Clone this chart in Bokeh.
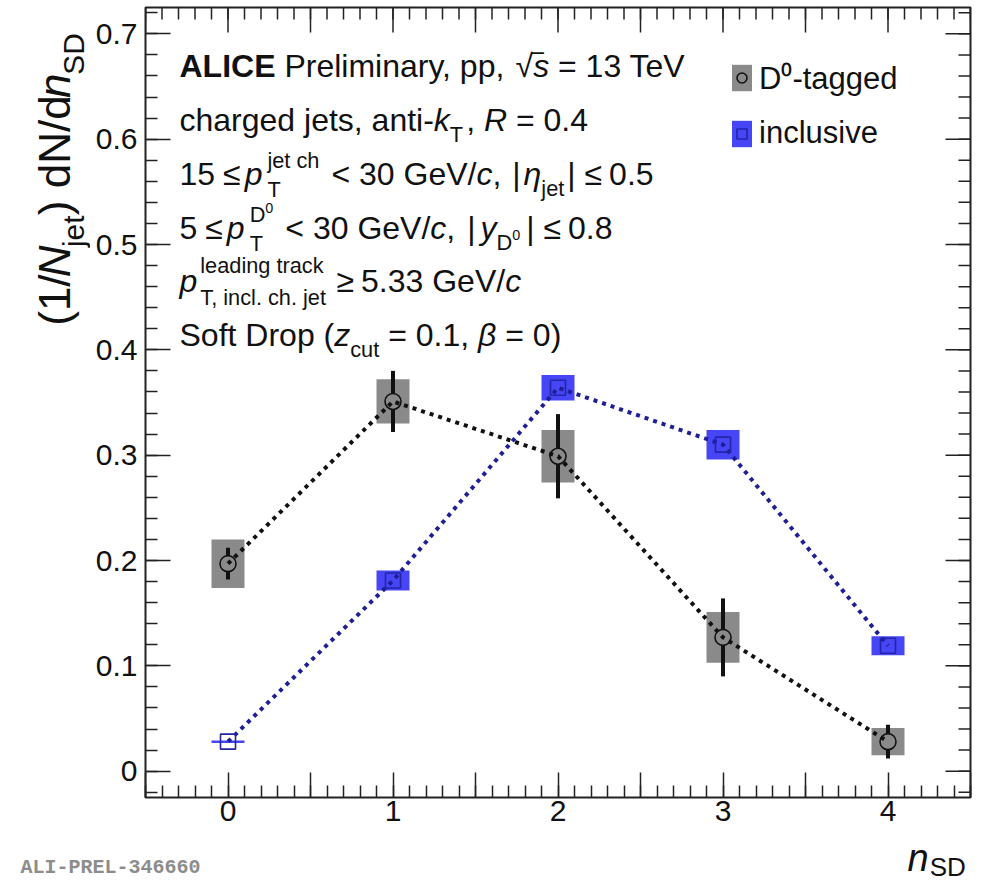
import numpy as np
from bokeh.plotting import figure
from bokeh.layouts import column, row
from bokeh.models import (ColumnDataSource, Label, FixedTicker, Range1d,
                          Legend, LegendItem)
from bokeh.embed import file_html
from bokeh.resources import INLINE

# ---------------- data ----------------
n_sd = [0, 1, 2, 3, 4]
d0_val = [0.197, 0.351, 0.299, 0.127, 0.028]
d0_stat = [0.015, 0.029, 0.040, 0.037, 0.016]
d0_syst = [0.023, 0.021, 0.025, 0.024, 0.013]
incl_val = [0.028, 0.181, 0.364, 0.310, 0.119]
incl_syst = [0.0012, 0.0095, 0.012, 0.014, 0.009]

x_ticks = [-0.5, 0, 0.5, 1, 1.5, 2, 2.5, 3, 3.5, 4, 4.5]
x_tick_labels = ["", "0", "", "1", "", "2", "", "3", "", "4", ""]
y_ticks = [0.0, 0.1, 0.2, 0.3, 0.4, 0.5, 0.6, 0.7]
y_tick_labels = ["0", "0.1", "0.2", "0.3", "0.4", "0.5", "0.6", "0.7"]

# ---------------- geometry (page pixels) ----------------
FONT = "Liberation Sans"
TOT_W, TOT_H = 992, 882
LEFT_W = 90          # strip holding the y title
ROW_H = 834          # height of the main row
FL, FR, FT, FB = 145, 970, 7, 797      # frame edges
X0, X1 = -0.5, 4.5
Y0, Y1 = -0.025, 0.725
BASE_FIX = 0.39      # Bokeh places an 'alphabetic' label this many em low

p = figure(width=TOT_W - LEFT_W, height=ROW_H, x_range=(X0, X1), y_range=(Y0, Y1),
           output_backend="svg", toolbar_location=None,
           min_border_left=FL - LEFT_W, min_border_right=TOT_W - FR,
           min_border_top=FT, min_border_bottom=ROW_H - FB)
p.xgrid.visible = False
p.ygrid.visible = False
p.outline_line_color = "#222222"
p.outline_line_width = 2

def X(px):
    return X0 + (px - FL) / (FR - FL) * (X1 - X0)

def Y(py):
    return Y0 + (FB - py) / (FB - FT) * (Y1 - Y0)

PX_PER_X = (FR - FL) / (X1 - X0)
PX_PER_Y = (FB - FT) / (Y1 - Y0)

# ---------------- axes ----------------
x_minor = [round(v, 2) for v in np.arange(-0.5, 4.5001, 0.1)]
y_minor = [round(v, 3) for v in np.arange(-0.02, 0.7201, 0.02)]
MAJ, MIN = 25, 12
TICK_C = "#222222"

def style_axis(ax):
    ax.axis_line_color = None
    ax.major_tick_line_color = TICK_C
    ax.minor_tick_line_color = TICK_C
    ax.major_tick_line_width = 1.5
    ax.minor_tick_line_width = 1.5
    ax.major_tick_in = MAJ
    ax.major_tick_out = 0
    ax.minor_tick_in = MIN
    ax.minor_tick_out = 0
    ax.major_label_text_font = FONT
    ax.major_label_text_font_size = "30px"
    ax.major_label_text_color = "#111111"

xa = p.xaxis[0]
xa.ticker = FixedTicker(ticks=x_ticks, minor_ticks=x_minor)
xa.major_label_overrides = {t: l for t, l in zip(x_ticks, x_tick_labels)}
style_axis(xa)
xa.major_label_standoff = 3

ya = p.yaxis[0]
ya.ticker = FixedTicker(ticks=y_ticks, minor_ticks=y_minor)
ya.major_label_overrides = {t: l for t, l in zip(y_ticks, y_tick_labels)}
style_axis(ya)
ya.major_label_standoff = 8

# mirrored ticks on the top and right edges of the frame
xt_maj = np.array(x_ticks, float); xt_min = np.array(x_minor, float)
yt_maj = np.array(y_ticks, float); yt_min = np.array(y_minor, float)
for xs, ln in ((xt_maj, MAJ), (xt_min, MIN)):
    p.segment(x0=xs, y0=np.full(len(xs), Y1), x1=xs,
              y1=np.full(len(xs), Y1 - ln / PX_PER_Y),
              line_color=TICK_C, line_width=1.5)
for ys, ln in ((yt_maj, MAJ), (yt_min, MIN)):
    p.segment(x0=np.full(len(ys), X1), y0=ys, x1=np.full(len(ys), X1 - ln / PX_PER_X),
              y1=ys, line_color=TICK_C, line_width=1.5)

# ---------------- data glyphs ----------------
BX = 0.1
GAP = 8.0 / PX_PER_Y
x = np.array(n_sd, dtype=float)
d0v = np.array(d0_val); d0s = np.array(d0_stat); d0y = np.array(d0_syst)
inv = np.array(incl_val); iny = np.array(incl_syst)

src_d0 = ColumnDataSource(dict(x=x, y=d0v, l=x - BX, r=x + BX,
                               b=d0v - d0y, t=d0v + d0y,
                               up0=d0v + GAP, up1=d0v + d0s,
                               dn0=d0v - GAP, dn1=d0v - d0s))
src_in = ColumnDataSource(dict(x=x, y=inv, l=x - BX, r=x + BX,
                               b=inv - iny, t=inv + iny))

GRAY = "#8a8a8a"
BLUE = "#4646f6"
NAVY = "#2424a8"

r_box_d0 = p.quad(left="l", right="r", bottom="b", top="t", source=src_d0,
                  fill_color=GRAY, line_color=None)
r_box_in = p.quad(left="l", right="r", bottom="b", top="t", source=src_in,
                  fill_color=BLUE, line_color=None)
p.segment(x0="x", y0="up0", x1="x", y1="up1", source=src_d0,
          line_width=4, line_color="#111111")
p.segment(x0="x", y0="dn0", x1="x", y1="dn1", source=src_d0,
          line_width=4, line_color="#111111")
p.line("x", "y", source=src_d0, line_dash="4 5", line_width=4,
       line_color="#111111")
r_mk_d0 = p.scatter("x", "y", source=src_d0, marker="circle", size=16,
                    fill_color=None, line_color="#111111", line_width=1.6)
p.line("x", "y", source=src_in, line_dash="4 5", line_width=4,
       line_color="#1e1e96")
r_mk_in = p.scatter("x", "y", source=src_in, marker="square", size=15,
                    fill_color=None, line_color=NAVY, line_width=1.6)

# ---------------- legend ----------------
legend = Legend(items=[LegendItem(label="D\u2070-tagged", renderers=[r_box_d0, r_mk_d0]),
                       LegendItem(label="inclusive", renderers=[r_box_in, r_mk_in])],
                location=(729 - FL, FB - 151), orientation="vertical",
                glyph_width=25, glyph_height=33, label_standoff=5, spacing=17,
                padding=0, margin=0, border_line_color=None,
                background_fill_alpha=0, label_text_font=FONT,
                label_text_font_size="31px", label_text_color="#111111",
                label_text_baseline="middle", label_height=33)
p.add_layout(legend)

# ---------------- text helpers ----------------
W = {' ': 278, '(': 333, ')': 333, ',': 278, '-': 333, '.': 278, '/': 278,
     '=': 584, '<': 584, '>': 584, '\u2264': 549, '\u2265': 549, '|': 260,
     '\u221a': 549, 'A': 667, 'C': 722, 'D': 722, 'E': 667, 'G': 778,
     'I': 278, 'L': 556, 'N': 722, 'P': 667, 'R': 722, 'S': 667, 'T': 611,
     'V': 667, 'a': 556, 'c': 500, 'd': 556, 'e': 556, 'f': 278, 'g': 556,
     'h': 556, 'i': 222, 'j': 222, 'k': 500, 'l': 222, 'm': 833, 'n': 556,
     'o': 556, 'p': 556, 'r': 333, 's': 500, 't': 278, 'u': 556, 'v': 500,
     'y': 500, 'z': 500, '\u03b7': 556, '\u03b2': 575}
for d in "0123456789":
    W[d] = 556
WB = {'A': 722, 'L': 611, 'I': 278, 'C': 722, 'E': 667}

def tw(s, size, bold=False):
    tot = 0
    for ch in s:
        tot += WB[ch] if (bold and ch in WB) else W.get(ch, 556)
    return tot / 1000.0 * size

def label(fig, xd, yd, txt, size, style="normal", color="#111111", angle=0.0, font=FONT):
    fig.add_layout(Label(x=xd, y=yd, x_units="data", y_units="data",
                         text=txt, text_font=font, text_font_size=f"{size}px",
                         text_font_style=style, text_color=color,
                         text_baseline="alphabetic", text_align="left",
                         angle=angle))

class Row:
    """horizontal rich text inside the main frame; y is the true baseline (page px)"""
    def __init__(self, x, y, size):
        self.x, self.y, self.size = x, y, size

    def t(self, s, style="normal", scale=1.0, dy=0.0, adv=True, dx=0.0):
        sz = self.size * scale
        lead = len(s) - len(s.lstrip(" "))
        core = s.strip(" ")
        if core:
            px = self.x + dx + tw(" " * lead, sz)
            py = self.y - dy * self.size - BASE_FIX * sz
            label(p, X(px), Y(py), core, sz, style)
        w = tw(s, sz, bold=(style == "bold"))
        if adv:
            self.x += w
        return w

    def gap(self, px):
        self.x += px

    def sub(self, s, style="normal"):
        return self.t(s, style, 0.68, -0.32)

SZ = 32
TX = 179
SUPX = 5      # italic p: scripts start a little to the right

r = Row(TX, 78, SZ)
r.t("ALICE", "bold"); r.t(" Preliminary, pp, "); r.t("\u221a")
r.t("\u203e", adv=False, dx=-1); r.t("s", "italic"); r.t(" = 13 TeV")

r = Row(TX, 132, SZ)
r.t("charged jets, anti-"); r.t("k", "italic"); r.sub("T"); r.gap(3); r.t(", ")
r.t("R", "italic"); r.t(" = 0.4")

r = Row(TX, 186, SZ)
r.t("15"); r.gap(8); r.t("\u2264"); r.gap(4); r.t("p", "italic")
w1 = r.t("jet ch", scale=0.68, dy=0.55, adv=False, dx=SUPX)
w2 = r.t("T", scale=0.68, dy=-0.35, adv=False, dx=SUPX)
r.gap(SUPX + max(w1, w2) + 12)
r.t("< 30 GeV/"); r.t("c", "italic"); r.t(", "); r.gap(2); r.t("|"); r.gap(3)
r.t("\u03b7", "italic"); r.sub("jet"); r.gap(3); r.t("|")
r.t(" \u2264"); r.gap(7); r.t("0.5")

r = Row(TX, 240, SZ)
r.t("5"); r.gap(8); r.t("\u2264"); r.gap(4); r.t("p", "italic")
wD = r.t("D", scale=0.68, dy=0.55, adv=False, dx=SUPX)
r.t("0", scale=0.45, dy=0.85, adv=False, dx=SUPX + wD)
r.t("T", scale=0.68, dy=-0.35, adv=False, dx=SUPX)
r.gap(SUPX + wD + tw("0", SZ * 0.45) + 12)
r.t("< 30 GeV/"); r.t("c", "italic"); r.t(", "); r.gap(3); r.t("|"); r.gap(5)
r.t("y", "italic")
wD = r.t("D", scale=0.68, dy=-0.32, adv=False)
r.t("0", scale=0.45, dy=0.0, adv=False, dx=wD)
r.gap(wD + tw("0", SZ * 0.45) + 6)
r.t("|"); r.t(" \u2264"); r.gap(7); r.t("0.8")

r = Row(TX, 293, SZ)
r.t("p", "italic")
w1 = r.t("leading track", scale=0.68, dy=0.6, adv=False, dx=SUPX - 2)
w2 = r.t("T, incl. ch. jet", scale=0.68, dy=-0.38, adv=False, dx=SUPX - 2)
r.gap(SUPX - 2 + max(w1, w2) + 8)
r.t("\u2265"); r.gap(7); r.t("5.33 GeV/"); r.t("c", "italic")

r = Row(TX, 347, SZ)
r.t("Soft Drop ("); r.t("z", "italic"); r.sub("cut"); r.t(" = 0.1, ")
r.t("\u03b2", "italic"); r.t(" = 0)")

# ---------------- left strip: y-axis title (reads bottom to top) ----------------
left = figure(width=LEFT_W, height=ROW_H, x_range=Range1d(0, LEFT_W),
              y_range=Range1d(ROW_H, 0), output_backend="svg",
              toolbar_location=None, min_border=0,
              x_axis_location=None, y_axis_location=None)
left.xgrid.visible = False
left.ygrid.visible = False
left.outline_line_color = None

class VRow:
    def __init__(self, x, y, size):
        self.x, self.y, self.size = x, y, size

    def t(self, s, style="normal", scale=1.0, dy=0.0):
        sz = self.size * scale
        lead = len(s) - len(s.lstrip(" "))
        core = s.strip(" ")
        label(left, self.x - dy * self.size - BASE_FIX * sz,
              self.y - tw(" " * lead, sz), core, sz, style, angle=np.pi / 2)
        self.y -= tw(s, sz)

    def gap(self, px):
        self.y -= px

YS = 44
v = VRow(71, 336, YS)
v.t("(1/"); v.t("N", "italic"); v.t("jet", scale=0.68, dy=-0.3); v.gap(2)
v.t(") dN/d"); v.gap(4); v.t("n", "italic"); v.t("SD", scale=0.68, dy=-0.3)

# ---------------- bottom strip: x-axis title and preliminary tag ----------------
BOT_H = TOT_H - ROW_H
bottom = figure(width=TOT_W, height=BOT_H, x_range=Range1d(0, TOT_W),
                y_range=Range1d(TOT_H, ROW_H), output_backend="svg",
                toolbar_location=None, min_border=0,
                x_axis_location=None, y_axis_location=None)
bottom.xgrid.visible = False
bottom.ygrid.visible = False
bottom.outline_line_color = None

def blabel(px, py, txt, size, style="normal", color="#111111", font=FONT):
    label(bottom, px, py - BASE_FIX * size, txt, size, style, color, font=font)

blabel(907, 872, "n", 38, "italic")
blabel(907 + tw("n", 38) + 1, 877, "SD", 26)
blabel(20, 875, "ALI-PREL-346660", 20, "bold", color="#8c8c8c",
       font="Liberation Mono")

layout = column(row(left, p, spacing=0), bottom, spacing=0)
open("out.html", "w").write(file_html(layout, INLINE))
